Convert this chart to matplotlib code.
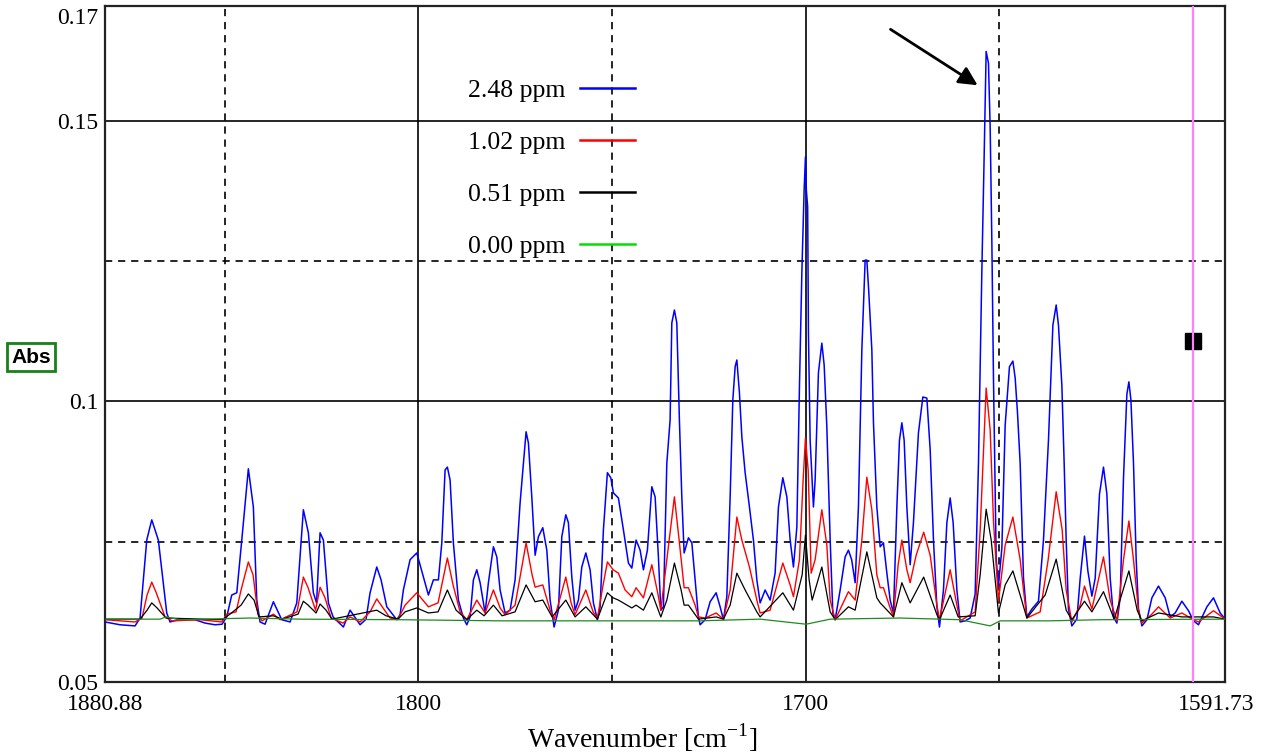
import matplotlib
matplotlib.use("Agg")
import matplotlib.pyplot as plt
from matplotlib.lines import Line2D
from matplotlib.transforms import ScaledTranslation

plt.rcParams['font.family'] = ['Liberation Serif', 'DejaVu Serif']
plt.rcParams['mathtext.fontset'] = 'custom'
plt.rcParams['mathtext.rm'] = 'Liberation Serif'
plt.rcParams['lines.scale_dashes'] = False

# ---------------- data (wavenumber in cm-1, absorbance) ----------------
blue_wn = [1880.88, 1877.01, 1873.13, 1871.84, 1870.11, 1868.82, 1867.12, 1864.95, 1864.10, 1861.51,
           1857.64, 1855.06, 1852.48, 1850.67, 1849.46, 1848.17, 1846.87, 1845.58, 1843.88, 1842.59,
           1841.71, 1840.86, 1839.57, 1837.42, 1835.26, 1833.11, 1831.38, 1829.68, 1828.39, 1827.10,
           1826.27, 1825.37, 1824.51, 1823.22, 1822.01, 1819.35, 1817.62, 1815.04, 1813.49, 1812.46,
           1810.73, 1809.62, 1808.14, 1805.56, 1804.71, 1803.86, 1802.13, 1800.40, 1798.69, 1797.40,
           1796.11, 1794.82, 1793.94, 1793.09, 1792.50, 1791.80, 1790.95, 1789.66, 1788.37, 1787.49,
           1786.64, 1785.78, 1784.91, 1784.05, 1782.76, 1781.91, 1780.62, 1779.74, 1778.89, 1777.60,
           1776.31, 1775.02, 1773.73, 1772.18, 1771.58, 1770.71, 1769.85, 1769.00, 1767.87, 1766.83,
           1765.98, 1764.95, 1763.84, 1762.96, 1761.93, 1761.26, 1760.38, 1759.53, 1758.67, 1757.80,
           1756.76, 1755.65, 1754.80, 1753.77, 1753.07, 1752.22, 1751.19, 1750.31, 1749.64, 1748.35,
           1747.05, 1745.76, 1744.89, 1743.78, 1742.74, 1741.89, 1740.86, 1739.72, 1738.87, 1738.02,
           1737.40, 1736.73, 1735.85, 1735.00, 1734.56, 1733.89, 1733.27, 1732.60, 1731.98, 1731.38,
           1730.27, 1729.39, 1728.54, 1727.69, 1727.25, 1725.96, 1724.67, 1723.12, 1722.09, 1721.23,
           1720.36, 1719.50, 1718.81, 1718.21, 1717.77, 1717.10, 1716.48, 1715.63, 1714.52, 1713.49,
           1712.61, 1711.76, 1710.47, 1709.18, 1707.89, 1707.03, 1705.90, 1704.86, 1704.01, 1703.16,
           1702.28, 1701.61, 1700.99, 1700.40, 1700.06, 1699.83, 1699.49, 1699.29, 1698.85, 1698.00,
           1697.56, 1696.71, 1695.83, 1695.23, 1694.54, 1693.68, 1692.99, 1692.39, 1691.10, 1689.81,
           1688.96, 1688.13, 1687.23, 1686.38, 1685.50, 1684.65, 1684.21, 1683.74, 1682.92, 1682.50,
           1681.63, 1680.77, 1679.92, 1679.04, 1678.19, 1677.34, 1676.46, 1675.79, 1675.17, 1674.58,
           1673.88, 1673.03, 1672.18, 1670.89, 1669.75, 1668.72, 1667.86, 1667.01, 1666.13, 1665.46,
           1664.43, 1663.55, 1662.70, 1661.93, 1660.97, 1660.12, 1658.83, 1657.54, 1656.25, 1655.39,
           1654.52, 1653.92, 1653.41, 1652.81, 1652.37, 1651.93, 1651.52, 1650.82, 1650.23, 1649.35,
           1648.50, 1647.39, 1646.51, 1645.92, 1645.32, 1644.63, 1643.77, 1642.90, 1641.61, 1639.90,
           1638.61, 1637.32, 1636.18, 1635.33, 1634.74, 1633.86, 1633.27, 1632.75, 1632.16, 1631.28,
           1629.99, 1629.13, 1628.02, 1627.15, 1626.11, 1625.26, 1624.15, 1623.12, 1622.24, 1621.39,
           1620.54, 1619.66, 1618.81, 1617.95, 1617.08, 1616.56, 1616.04, 1615.37, 1614.68, 1614.08,
           1613.20, 1611.91, 1610.62, 1608.92, 1607.19, 1605.90, 1604.61, 1602.88, 1601.17, 1599.88,
           1598.59, 1596.42, 1594.72, 1592.99, 1591.70]
blue_abs = [0.0607, 0.0602, 0.0600, 0.0614, 0.0753, 0.0789, 0.0753, 0.0623, 0.0607, 0.0612,
            0.0611, 0.0605, 0.0602, 0.0603, 0.0616, 0.0655, 0.0659, 0.0753, 0.0880, 0.0812,
            0.0646, 0.0607, 0.0603, 0.0643, 0.0611, 0.0607, 0.0641, 0.0807, 0.0766, 0.0659,
            0.0641, 0.0766, 0.0753, 0.0641, 0.0616, 0.0598, 0.0628, 0.0602, 0.0612, 0.0659,
            0.0705, 0.0682, 0.0634, 0.0611, 0.0620, 0.0664, 0.0718, 0.0730, 0.0687, 0.0655,
            0.0682, 0.0682, 0.0748, 0.0878, 0.0883, 0.0860, 0.0748, 0.0646, 0.0614, 0.0602,
            0.0616, 0.0682, 0.0700, 0.0677, 0.0623, 0.0677, 0.0741, 0.0723, 0.0664, 0.0623,
            0.0628, 0.0682, 0.0819, 0.0946, 0.0926, 0.0830, 0.0726, 0.0759, 0.0775, 0.0735,
            0.0646, 0.0598, 0.0628, 0.0759, 0.0798, 0.0784, 0.0687, 0.0628, 0.0646, 0.0705,
            0.0730, 0.0700, 0.0641, 0.0611, 0.0634, 0.0771, 0.0873, 0.0864, 0.0837, 0.0828,
            0.0771, 0.0712, 0.0703, 0.0753, 0.0735, 0.0700, 0.0735, 0.0848, 0.0830, 0.0723,
            0.0628, 0.0634, 0.0890, 0.0967, 0.1140, 0.1163, 0.1140, 0.0967, 0.0830, 0.0730,
            0.0757, 0.0748, 0.0682, 0.0616, 0.0602, 0.0611, 0.0643, 0.0659, 0.0634, 0.0611,
            0.0652, 0.0830, 0.1003, 0.1062, 0.1074, 0.1015, 0.0937, 0.0873, 0.0812, 0.0753,
            0.0682, 0.0641, 0.0664, 0.0646, 0.0694, 0.0812, 0.0864, 0.0830, 0.0753, 0.0705,
            0.0776, 0.1026, 0.1229, 0.1377, 0.1436, 0.1377, 0.1347, 0.1122, 0.0931, 0.0812,
            0.0860, 0.1051, 0.1104, 0.1065, 0.0955, 0.0753, 0.0623, 0.0611, 0.0664, 0.0723,
            0.0735, 0.0718, 0.0677, 0.0812, 0.1092, 0.1252, 0.1252, 0.1199, 0.1092, 0.0962,
            0.0812, 0.0741, 0.0748, 0.0694, 0.0646, 0.0623, 0.0812, 0.0931, 0.0962, 0.0931,
            0.0812, 0.0709, 0.0784, 0.0944, 0.1008, 0.1006, 0.0914, 0.0753, 0.0634, 0.0598,
            0.0664, 0.0784, 0.0828, 0.0784, 0.0664, 0.0607, 0.0609, 0.0614, 0.0657, 0.0890,
            0.1233, 0.1439, 0.1624, 0.1603, 0.1488, 0.1281, 0.1042, 0.0719, 0.0671, 0.0739,
            0.0958, 0.1062, 0.1072, 0.1042, 0.0980, 0.0890, 0.0685, 0.0616, 0.0630, 0.0644,
            0.0753, 0.0931, 0.1136, 0.1172, 0.1136, 0.1028, 0.0890, 0.0753, 0.0630, 0.0600,
            0.0612, 0.0685, 0.0760, 0.0698, 0.0653, 0.0685, 0.0835, 0.0883, 0.0835, 0.0685,
            0.0616, 0.0605, 0.0650, 0.0864, 0.1013, 0.1035, 0.1003, 0.0890, 0.0719, 0.0630,
            0.0600, 0.0611, 0.0650, 0.0671, 0.0650, 0.0616, 0.0623, 0.0644, 0.0627, 0.0609,
            0.0602, 0.0634, 0.0650, 0.0623, 0.0612]

red_wn = [1880.88, 1873.13, 1871.33, 1870.03, 1868.82, 1867.71, 1865.39, 1863.58, 1856.35, 1850.67,
          1849.38, 1847.05, 1845.76, 1843.88, 1842.67, 1841.37, 1840.34, 1837.42, 1835.69, 1831.31,
          1829.68, 1828.46, 1826.53, 1825.37, 1824.08, 1822.53, 1819.43, 1817.62, 1815.04, 1812.46,
          1810.73, 1809.10, 1807.29, 1805.23, 1803.42, 1800.40, 1797.40, 1794.90, 1792.50, 1791.03,
          1789.22, 1787.49, 1784.91, 1782.76, 1780.62, 1778.89, 1777.60, 1775.02, 1772.18, 1770.63,
          1769.85, 1767.87, 1765.98, 1764.95, 1761.93, 1760.56, 1759.53, 1756.76, 1754.88, 1753.77,
          1752.30, 1751.19, 1749.71, 1748.35, 1746.62, 1744.89, 1743.78, 1741.89, 1739.72, 1738.09,
          1737.40, 1735.85, 1733.89, 1732.67, 1731.38, 1730.27, 1728.54, 1727.69, 1725.96, 1723.12,
          1721.23, 1719.50, 1717.77, 1716.48, 1714.52, 1712.61, 1711.76, 1709.18, 1705.90, 1704.01,
          1703.16, 1701.61, 1700.66, 1700.06, 1699.36, 1698.59, 1697.56, 1695.83, 1694.54, 1693.68,
          1692.39, 1688.96, 1687.23, 1685.50, 1684.21, 1682.92, 1681.63, 1680.77, 1679.92, 1678.19,
          1677.34, 1676.13, 1675.17, 1673.88, 1673.03, 1671.48, 1669.54, 1667.86, 1666.13, 1665.46,
          1663.55, 1662.70, 1660.97, 1660.12, 1656.25, 1654.95, 1653.41, 1652.37, 1651.52, 1650.23,
          1648.50, 1646.51, 1644.63, 1643.77, 1642.90, 1639.46, 1637.40, 1635.33, 1633.78, 1632.75,
          1631.28, 1629.13, 1628.02, 1626.11, 1624.15, 1623.12, 1621.39, 1619.66, 1617.95, 1616.56,
          1615.37, 1614.08, 1613.20, 1610.62, 1608.92, 1605.90, 1602.88, 1599.88, 1598.59, 1594.72,
          1591.70]
red_abs = [0.0611, 0.0607, 0.0614, 0.0655, 0.0678, 0.0660, 0.0616, 0.0609, 0.0611, 0.0607,
           0.0621, 0.0625, 0.0664, 0.0714, 0.0691, 0.0620, 0.0609, 0.0621, 0.0611, 0.0625,
           0.0687, 0.0668, 0.0628, 0.0669, 0.0650, 0.0614, 0.0605, 0.0616, 0.0607, 0.0625,
           0.0648, 0.0632, 0.0614, 0.0612, 0.0637, 0.0659, 0.0634, 0.0641, 0.0721, 0.0673,
           0.0625, 0.0611, 0.0646, 0.0623, 0.0664, 0.0632, 0.0620, 0.0637, 0.0748, 0.0691,
           0.0669, 0.0673, 0.0628, 0.0611, 0.0687, 0.0641, 0.0620, 0.0664, 0.0625, 0.0614,
           0.0673, 0.0714, 0.0700, 0.0694, 0.0664, 0.0652, 0.0668, 0.0650, 0.0709, 0.0655,
           0.0628, 0.0718, 0.0830, 0.0753, 0.0668, 0.0668, 0.0637, 0.0616, 0.0614, 0.0623,
           0.0612, 0.0664, 0.0794, 0.0753, 0.0705, 0.0646, 0.0623, 0.0628, 0.0712, 0.0673,
           0.0652, 0.0718, 0.0860, 0.0935, 0.0878, 0.0694, 0.0718, 0.0807, 0.0744, 0.0646,
           0.0611, 0.0661, 0.0646, 0.0753, 0.0865, 0.0807, 0.0691, 0.0668, 0.0668, 0.0632,
           0.0616, 0.0709, 0.0753, 0.0700, 0.0677, 0.0726, 0.0767, 0.0726, 0.0637, 0.0611,
           0.0673, 0.0700, 0.0637, 0.0609, 0.0625, 0.0771, 0.1024, 0.0949, 0.0787, 0.0644,
           0.0744, 0.0794, 0.0718, 0.0664, 0.0614, 0.0625, 0.0718, 0.0839, 0.0771, 0.0664,
           0.0607, 0.0637, 0.0671, 0.0630, 0.0691, 0.0723, 0.0646, 0.0609, 0.0718, 0.0787,
           0.0718, 0.0628, 0.0605, 0.0621, 0.0634, 0.0614, 0.0623, 0.0611, 0.0607, 0.0627,
           0.0612]

black_wn = [1880.88, 1871.84, 1870.03, 1868.82, 1867.45, 1865.13, 1850.67, 1848.60, 1845.76, 1843.88,
            1842.41, 1841.12, 1837.42, 1835.18, 1831.05, 1829.68, 1828.46, 1826.40, 1825.37, 1823.82,
            1822.27, 1810.73, 1808.33, 1805.23, 1803.42, 1800.40, 1797.40, 1794.90, 1792.50, 1790.25,
            1787.49, 1784.91, 1783.02, 1780.62, 1778.37, 1775.02, 1772.18, 1769.85, 1767.87, 1765.46,
            1761.93, 1759.53, 1756.76, 1753.77, 1751.19, 1749.71, 1748.35, 1744.89, 1743.78, 1741.89,
            1739.72, 1737.40, 1735.85, 1733.89, 1732.16, 1731.38, 1730.27, 1727.69, 1723.12, 1721.23,
            1719.50, 1717.77, 1715.63, 1712.61, 1711.76, 1705.90, 1703.16, 1700.91, 1700.06, 1699.11,
            1698.33, 1695.83, 1693.68, 1692.39, 1688.96, 1687.23, 1684.21, 1681.63, 1680.77, 1677.34,
            1675.17, 1673.03, 1669.54, 1666.13, 1665.46, 1662.70, 1660.63, 1656.25, 1654.95, 1653.41,
            1652.11, 1650.23, 1648.50, 1646.51, 1644.63, 1642.90, 1638.17, 1635.33, 1632.75, 1631.28,
            1628.02, 1626.11, 1623.12, 1620.36, 1616.56, 1614.42, 1613.20, 1608.92, 1602.88, 1594.72,
            1591.70]
black_abs = [0.0612, 0.0612, 0.0628, 0.0641, 0.0632, 0.0614, 0.0611, 0.0621, 0.0637, 0.0657,
             0.0646, 0.0616, 0.0618, 0.0612, 0.0621, 0.0644, 0.0637, 0.0623, 0.0639, 0.0628,
             0.0612, 0.0628, 0.0618, 0.0612, 0.0625, 0.0632, 0.0623, 0.0625, 0.0664, 0.0628,
             0.0611, 0.0628, 0.0618, 0.0637, 0.0618, 0.0625, 0.0673, 0.0643, 0.0646, 0.0616,
             0.0646, 0.0616, 0.0634, 0.0612, 0.0659, 0.0650, 0.0646, 0.0632, 0.0637, 0.0628,
             0.0659, 0.0616, 0.0646, 0.0712, 0.0664, 0.0637, 0.0637, 0.0612, 0.0616, 0.0612,
             0.0637, 0.0694, 0.0664, 0.0625, 0.0616, 0.0659, 0.0628, 0.0691, 0.0762, 0.0682,
             0.0646, 0.0705, 0.0625, 0.0611, 0.0634, 0.0628, 0.0732, 0.0650, 0.0641, 0.0616,
             0.0677, 0.0641, 0.0687, 0.0620, 0.0611, 0.0655, 0.0616, 0.0618, 0.0691, 0.0808,
             0.0753, 0.0623, 0.0673, 0.0698, 0.0655, 0.0614, 0.0655, 0.0719, 0.0628, 0.0611,
             0.0644, 0.0625, 0.0661, 0.0612, 0.0698, 0.0628, 0.0609, 0.0623, 0.0616, 0.0616,
             0.0612]

green_wn = [1880.88, 1866.68, 1865.13, 1861.51, 1843.44, 1830.53, 1804.71, 1778.89, 1753.07, 1727.25,
            1711.76, 1699.88, 1693.68, 1675.61, 1660.12, 1652.37, 1649.79, 1636.88, 1623.97, 1591.70]
green_abs = [0.0612, 0.0612, 0.0616, 0.0611, 0.0614, 0.0612, 0.0611, 0.0609, 0.0609, 0.0609,
             0.0612, 0.0603, 0.0612, 0.0614, 0.0611, 0.0600, 0.0609, 0.0609, 0.0611, 0.0612]

series_labels = ['2.48 ppm', '1.02 ppm', '0.51 ppm', '0.00 ppm']
series_colors = ['#0000ff', '#ff0000', '#000000', '#1f8a1f']
legend_colors = ['#0000ff', '#ff0000', '#000000', '#00e000']

x_ticks = [1880.88, 1800, 1700, 1591.73]
x_ticklabels = ['1880.88', '1800', '1700', '1591.73']
y_ticks = [0.05, 0.1, 0.15, 0.17]
y_ticklabels = ['0.05', '0.1', '0.15', '0.17']
x_solid_grid = [1800, 1700]
x_dashed_grid = [1850, 1750, 1650]
y_solid_grid = [0.1, 0.15]
y_dashed_grid = [0.075, 0.125]
cursor_wn = 1600.0
cursor_abs = 0.1108
arrow_tail = (1678.7, 0.1666)
arrow_head = (1655.0, 0.1561)

# ---------------- figure ----------------
fig = plt.figure(figsize=(12.64, 7.55), dpi=100)
ax = fig.add_axes([0.0831, 0.0967, 0.8861, 0.8954])
ax.set_xlim(1880.88, 1591.73)
ax.set_ylim(0.05, 0.1705)

dash = (0, (5.2, 4.2))
for v in x_solid_grid:
    ax.axvline(v, color='black', lw=1.2, zorder=1)
for v in x_dashed_grid:
    ax.axvline(v, color='black', lw=1.2, ls=dash, zorder=1)
for v in y_solid_grid:
    ax.axhline(v, color='black', lw=1.2, zorder=1)
for v in y_dashed_grid:
    ax.axhline(v, color='black', lw=1.2, ls=dash, zorder=1)

ax.plot(blue_wn, blue_abs, color=series_colors[0], lw=1.1, zorder=3)
ax.plot(red_wn, red_abs, color=series_colors[1], lw=1.0, zorder=4)
ax.plot(black_wn, black_abs, color=series_colors[2], lw=0.9, zorder=5)
ax.plot(green_wn, green_abs, color=series_colors[3], lw=0.9, zorder=6)

# cursor
ax.plot([cursor_wn], [cursor_abs], marker='s', ms=12, color='black', zorder=7)
ax.axvline(cursor_wn, color='#ff80ff', lw=1.6, zorder=8)

# arrow
ax.annotate('', xy=arrow_head, xytext=arrow_tail,
            arrowprops=dict(arrowstyle='-|>', color='black', lw=2.0, mutation_scale=28),
            zorder=9)

# legend
handles = [Line2D([], [], color=c, lw=1.8) for c in legend_colors]
leg = ax.legend(handles, series_labels, loc='upper left', bbox_to_anchor=(0.3241, 0.8926),
                frameon=False, markerfirst=False, fontsize=18.5, handlelength=2.14,
                handletextpad=0.56, labelspacing=1.14, borderpad=0, borderaxespad=0)

# ticks
ax.set_xticks(x_ticks)
ax.set_xticklabels(x_ticklabels)
ax.set_yticks(y_ticks)
ax.set_yticklabels(y_ticklabels)
ax.tick_params(axis='both', length=0, labelsize=17)
ax.tick_params(axis='x', pad=9)
ax.tick_params(axis='y', pad=5)
ylabels = ax.get_yticklabels()
ylabels[-1].set_transform(ylabels[-1].get_transform() +
                          ScaledTranslation(0, -7 / 100, fig.dpi_scale_trans))
xlabels = ax.get_xticklabels()
xlabels[-1].set_transform(xlabels[-1].get_transform() +
                          ScaledTranslation(-9 / 100, 0, fig.dpi_scale_trans))

for s in ax.spines.values():
    s.set_color('#222222')
    s.set_linewidth(1.6)

ax.set_xlabel(r'Wavenumber [cm$^{\mathregular{-1}}$]', fontsize=20)
ax.xaxis.set_label_coords(0.4795, -0.058)

fig.text(31 / 1264, 1 - 357 / 755, 'Abs', family=['Liberation Sans', 'DejaVu Sans'],
         fontweight='bold', fontsize=15, ha='center', va='center',
         bbox=dict(boxstyle='square,pad=0.22', fc='white', ec='#1a801a', lw=2.0))

fig.savefig('out.png', dpi=100)
